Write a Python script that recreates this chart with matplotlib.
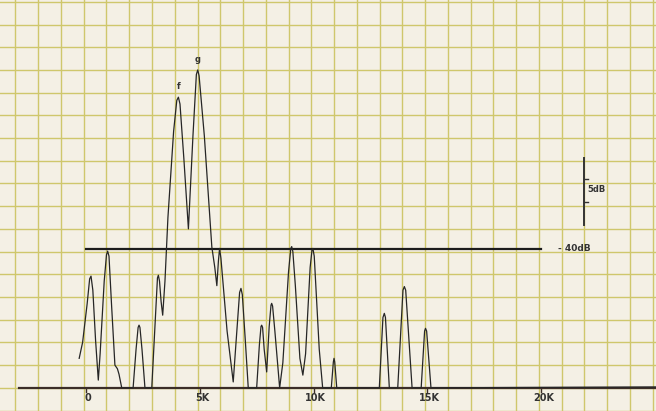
# Chart-recorder spectrum trace on graph paper
import numpy as np
import matplotlib
matplotlib.use('Agg')
import matplotlib.pyplot as plt

# trace: frequency [kHz], level [dB]
freq = [-0.30, -0.15, 0.05, 0.16, 0.22, 0.30, 0.42, 0.54, 0.62, 0.80, 0.90, 0.95, 1.01,
        1.12, 1.27, 1.38, 1.45, 1.57, 2.07, 2.20, 2.29, 2.33, 2.37, 2.46, 2.59, 2.89,
        3.05, 3.14, 3.18, 3.23, 3.30, 3.37, 3.47, 3.60, 3.85, 3.99, 4.06, 4.13, 4.30,
        4.50, 4.70, 4.85, 4.91, 4.97, 5.20, 5.53, 5.66, 5.75, 5.82, 5.87, 5.93, 6.20,
        6.47, 6.60, 6.75, 6.81, 6.87, 7.00, 7.13, 7.50, 7.62, 7.69, 7.72, 7.76, 7.83,
        7.94, 8.05, 8.13, 8.16, 8.20, 8.30, 8.51, 8.65, 8.90, 9.00, 9.04, 9.09, 9.20,
        9.40, 9.53, 9.65, 9.85, 9.93, 9.97, 10.03, 10.25, 10.40, 10.78, 10.87, 10.90,
        10.93, 11.02, 12.89, 13.05, 13.11, 13.16, 13.33, 13.70, 13.93, 13.99, 14.05,
        14.33, 14.73, 14.88, 14.92, 14.97, 15.16, 25.10]
level = [-64.0, -60.5, -52.0, -46.5, -45.9, -49.0, -60.0, -68.8, -63.0, -47.0, -41.2, -40.4, -41.5,
         -52.0, -65.5, -66.3, -67.5, -70.5, -70.5, -62.0, -57.2, -56.7, -57.2, -62.0, -70.5, -70.5,
         -55.0, -46.3, -45.7, -47.0, -51.5, -54.5, -47.0, -33.0, -14.0, -7.2, -6.5, -8.0, -20.0,
         -35.5, -15.0, -1.5, -0.5, -1.8, -15.0, -39.5, -44.0, -48.0, -42.5, -39.8, -42.0, -58.0,
         -69.2, -60.0, -49.5, -48.6, -50.0, -60.0, -70.5, -70.5, -61.0, -57.0, -56.7, -57.2, -62.0,
         -67.0, -57.0, -52.3, -51.9, -52.5, -58.0, -70.5, -65.0, -45.0, -39.8, -39.4, -40.5, -48.0,
         -64.0, -67.7, -63.0, -44.0, -40.2, -39.8, -41.5, -62.0, -70.5, -70.5, -64.8, -64.0,
         -64.8, -70.5, -70.5, -55.0, -54.1, -55.0, -70.5, -70.5, -49.0, -48.2, -49.0,
         -70.5, -70.5, -58.0, -57.4, -58.0, -70.5, -70.3]

floor_db = -70.5
ref_db = -40.0
ref_span = [0, 20]
freq_ticks = [0, 5, 10, 15, 20]
freq_labels = ['0', '5K', '10K', '15K', '20K']
scale_top = -20.0
scale_marks = [-24.6, -29.6]
scale_bottom = -34.6
peak_names = ['f', 'g']
peak_freq = [4.06, 4.91]
peak_level = [-6.5, -0.5]

paper = '#f4f0e5'
grid_col = '#cfc76c'
ink = '#262626'

fig = plt.figure(figsize=(6.56, 4.11), dpi=100)
fig.patch.set_facecolor(paper)
ax = fig.add_axes([0, 0, 1, 1])
ax.set_facecolor(paper)
ax.set_xlim(-3.78, 25.05)
ax.set_ylim(-75.6, 14.9)

# graph paper
for gx in np.arange(-3, 26) - 0.1:
    ax.axvline(gx, color=grid_col, lw=1.0, zorder=1)
for gy in np.arange(-75.5, 15, 5):
    ax.axhline(gy, color=grid_col, lw=1.0, zorder=1)

# baseline / frequency axis
ax.plot([-2.93, 25.1], [floor_db, floor_db], color='#3b2d27', lw=1.6, zorder=3)
for t, lab in zip(freq_ticks, freq_labels):
    ax.plot([t, t], [floor_db, floor_db - 1.0], color='#3b2d27', lw=1.0, zorder=3)
    ax.text(t + 0.1, floor_db - 2.2, lab, ha='center', va='center',
            fontsize=7, fontweight='bold', color='#333333', zorder=4)

# -40 dB reference line
ax.plot(ref_span, [ref_db, ref_db], color='#1c1c1c', lw=1.6, zorder=3)
ax.text(20.75, ref_db + 0.2, '- 40dB', ha='left', va='center',
        fontsize=6.5, fontweight='bold', color='#333333')

# 5 dB scale bar
ax.plot([21.9, 21.9], [scale_top, scale_bottom], color='#333333', lw=1.4)
for m in scale_marks:
    ax.plot([21.9, 22.08], [m, m], color='#333333', lw=1.0)
ax.text(22.05, (scale_marks[0] + scale_marks[1]) / 2 + 0.3, '5dB', ha='left', va='center',
        fontsize=6, fontweight='bold', color='#333333')

# recorder trace
ax.plot(freq, level, color=ink, lw=0.9, zorder=5)
for n, fx, fy in zip(peak_names, peak_freq, peak_level):
    ax.text(fx, fy + 2.4, n, ha='center', va='center', fontsize=6,
            fontweight='bold', color='#333333')

ax.axis('off')
plt.savefig('out.png', dpi=100, facecolor=paper)
